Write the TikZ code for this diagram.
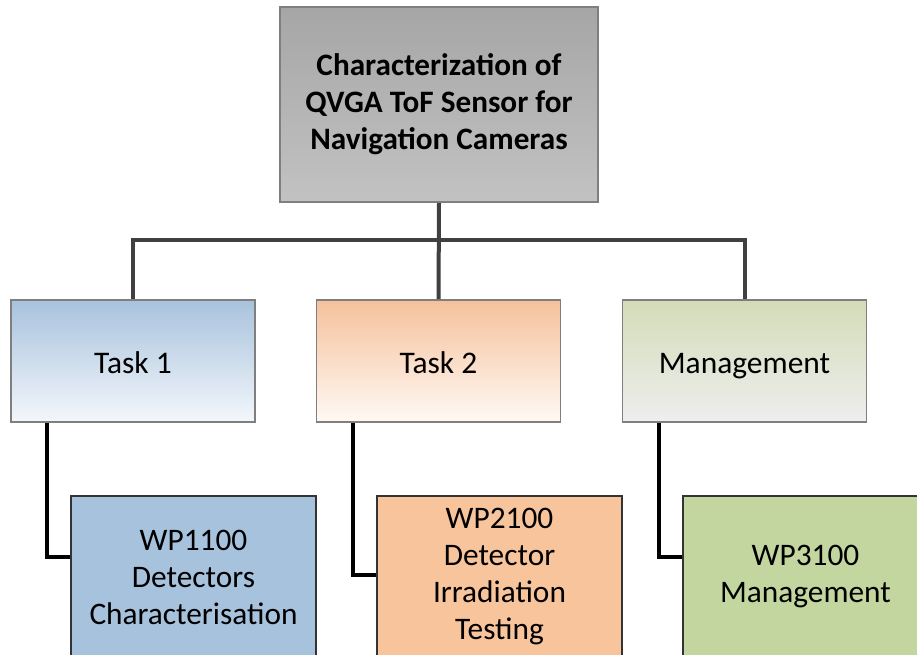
\documentclass[tikz,border=0pt]{standalone}
\usepackage{fontspec}
\setmainfont{Carlito}
\definecolor{topA}{HTML}{A6A6A6}
\definecolor{topB}{HTML}{C2C2C2}
\definecolor{blueA}{HTML}{A8C2DD}
\definecolor{blueB}{HTML}{F3F7FB}
\definecolor{orA}{HTML}{F5C19C}
\definecolor{orB}{HTML}{FFF9F4}
\definecolor{grA}{HTML}{D3DCB8}
\definecolor{grB}{HTML}{EEEEEE}
\definecolor{wpblue}{HTML}{A7C2DD}
\definecolor{wpor}{HTML}{F8C49C}
\definecolor{wpgr}{HTML}{C4D69F}
\definecolor{conn}{HTML}{404040}
\definecolor{bord}{HTML}{7F7F7F}
\tikzset{
  topbox/.style={draw=bord, line width=1.5pt, top color=topA, bottom color=topB, minimum width=238.5pt, minimum height=146.25pt, inner sep=0pt, align=center, font=\fontsize{23.4}{27.75}\selectfont\bfseries},
  taskbox/.style={draw=bord, line width=1.3pt, minimum width=183pt, minimum height=91.5pt, inner sep=0pt, text height=23.5pt, text depth=5pt, font=\fontsize{23.6}{27.75}\selectfont},
  wpbox/.style={draw=black!80, line width=1pt, minimum width=183.75pt, minimum height=121.5pt, inner sep=0pt, align=center, font=\fontsize{23.5}{27.75}\selectfont},
  busline/.style={draw=conn, line width=3pt},
  wpline/.style={draw=black, line width=3pt}
}
\begin{document}
\begin{tikzpicture}[x=0.75pt, y=-0.75pt]
\path[use as bounding box, fill=white] (0,0) rectangle (917,654);
\begin{scope}
\clip (0,0) rectangle (917,654);
\node[topbox] (top) at (439,104.5) {Characterization of\\QVGA ToF Sensor for\\Navigation Cameras};
\node[taskbox, top color=blueA, bottom color=blueB] (task1) at (133,361) {Task 1};
\node[taskbox, top color=orA, bottom color=orB] (task2) at (438.5,361) {Task 2};
\node[taskbox, top color=grA, bottom color=grB] (task3) at (744.5,361) {Management};
\node[wpbox, fill=wpblue] (wp1) at (193.5,577) {WP1100\\Detectors\\Characterisation};
\node[wpbox, fill=wpor] (wp2) at (499.5,577) {WP2100\\Detector\\Irradiation\\Testing};
\node[wpbox, fill=wpgr] (wp3) at (805.5,577) {WP3100\\Management};
\coordinate (bus) at (438,240);
\draw[busline] (top.south) -- (task2.north);
\draw[busline] (task1.north) -- (task1.north |- bus) -- (task3.north |- bus) -- (task3.north);
\draw[wpline] ([xshift=27.75pt]task1.south west) |- ([yshift=15pt]wp1.west);
\draw[wpline] ([xshift=27.75pt]task2.south west) |- ([yshift=1.5pt]wp2.west);
\draw[wpline] ([xshift=27.75pt]task3.south west) |- ([yshift=15pt]wp3.west);
\end{scope}
\end{tikzpicture}
\end{document}
